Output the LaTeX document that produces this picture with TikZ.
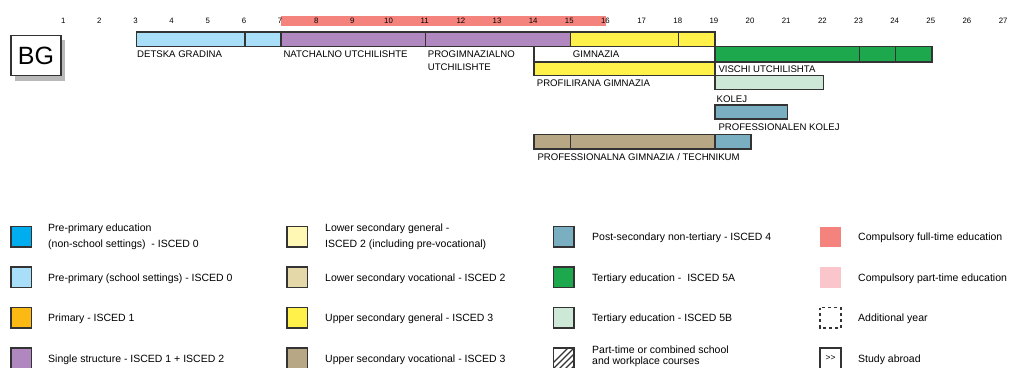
\documentclass[tikz,border=0pt]{standalone}
\usepackage{fontspec}
\setmainfont{Liberation Sans}
\definecolor{bord}{HTML}{333333}
\definecolor{cyanpp}{HTML}{00AEEF}
\definecolor{lblue}{HTML}{A8DEF7}
\definecolor{orangep}{HTML}{FDB913}
\definecolor{purp}{HTML}{B087BE}
\definecolor{lyel}{HTML}{FFF8B5}
\definecolor{ltan}{HTML}{E5D8A8}
\definecolor{yel}{HTML}{FFF04A}
\definecolor{brownv}{HTML}{B8A784}
\definecolor{steel}{HTML}{7AAEC1}
\definecolor{grn}{HTML}{1EA84E}
\definecolor{lgrn}{HTML}{CDE8D6}
\definecolor{redc}{HTML}{F4837D}
\definecolor{pinkc}{HTML}{FAC6CB}
\begin{document}
\begin{tikzpicture}[x=1bp,y=-1bp,
  declare function={yx(\n)=136.5+(\n-3)*36.15;},
  bar/.style={draw=bord,line width=1.4bp},
  num/.style={font=\fontsize{7.8bp}{9bp}\selectfont,inner sep=0pt},
  caplab/.style={font=\fontsize{9.6bp}{11bp}\selectfont,inner sep=0pt,anchor=base west},
  leg/.style={font=\fontsize{10.5bp}{12bp}\selectfont,inner sep=0pt,anchor=base west},
  legbox/.style={draw=bord,line width=1.4bp}]
\useasboundingbox (0,0) rectangle (1011,367);
% country box
\fill[gray!55] (15,40) rectangle (65,80.5);
\node[draw=bord,line width=1.3bp,fill=white,minimum width=50bp,minimum height=40bp,inner sep=0pt,
  font=\fontsize{25bp}{27bp}\selectfont] (bg) at (36,55.7) {BG};
% compulsory strip
\fill[redc] ({yx(7)},16) rectangle ({yx(16)},25.5);
\foreach \n in {1,...,27}
  \node[num] (n\n) at ({yx(\n)-1},21) {\n};
% row 1
\draw[bar,fill=lblue] ({yx(3)},32) rectangle ({yx(6)},46.5);
\draw[bar,fill=lblue] ({yx(6)},32) rectangle ({yx(7)},46.5);
\draw[bar,fill=purp] ({yx(7)},32) rectangle ({yx(11)},46.5);
\draw[bar,fill=purp] ({yx(11)},32) rectangle ({yx(15)},46.5);
\draw[bar,fill=yel] ({yx(15)},32) rectangle ({yx(18)},46.5);
\draw[bar,fill=yel] ({yx(18)},32) rectangle ({yx(19)},46.5);
% row 2
\draw[bar,fill=white] ({yx(14)},46.5) rectangle ({yx(19)},62);
\draw[bar,fill=grn] ({yx(19)},46.5) rectangle ({yx(23)},62);
\draw[bar,fill=grn] ({yx(23)},46.5) rectangle ({yx(24)},62);
\draw[bar,fill=grn] ({yx(24)},46.5) rectangle ({yx(25)},62);
% row 3
\draw[bar,fill=yel] ({yx(14)},62) rectangle ({yx(19)},75.5);
% row 4
\draw[bar,fill=lgrn] ({yx(19)},75.5) rectangle ({yx(22)},89.5);
% row 5
\draw[bar,fill=steel] ({yx(19)},105) rectangle ({yx(21)},119);
% row 6
\draw[bar,fill=brownv] ({yx(14)},134.5) rectangle ({yx(15)},149);
\draw[bar,fill=brownv] ({yx(15)},134.5) rectangle ({yx(19)},149);
\draw[bar,fill=steel] ({yx(19)},134.5) rectangle ({yx(20)},149);
% bar labels
\node[caplab] (l1) at (137,57.3) {DETSKA GRADINA};
\node[caplab] (l2) at (283.3,57.3) {NATCHALNO UTCHILISHTE};
\node[caplab] (l3) at (427.7,57.3) {PROGIMNAZIALNO};
\node[caplab] (l3b) at (427.7,70.7) {UTCHILISHTE};
\node[caplab] (l4) at (572.7,57.3) {GIMNAZIA};
\node[caplab] (l5) at (718.3,72.7) {VISCHI UTCHILISHTA};
\node[caplab] (l6) at (536.7,86.7) {PROFILIRANA GIMNAZIA};
\node[caplab] (l7) at (716.5,102.7) {KOLEJ};
\node[caplab] (l8) at (718.3,130) {PROFESSIONALEN KOLEJ};
\node[caplab] (l9) at (537.3,160) {PROFESSIONALNA GIMNAZIA / TECHNIKUM};
% legend column 1
\draw[legbox,fill=cyanpp] (11,226.5) rectangle ++(20.5,20.5);
\node[leg] (a1) at (48,231) {Pre-primary education};
\node[leg] (a1b) at (48,247) {(non-school settings)\ \ - ISCED 0};
\draw[legbox,fill=lblue] (11,267) rectangle ++(20.5,20.5);
\node[leg] (a2) at (48,281) {Pre-primary (school settings) - ISCED 0};
\draw[legbox,fill=orangep] (11,307.5) rectangle ++(20.5,20.5);
\node[leg] (a3) at (48,321.5) {Primary - ISCED 1};
\draw[legbox,fill=purp] (11,348) rectangle ++(20.5,20.5);
\node[leg] (a4) at (48,362) {Single structure - ISCED 1 + ISCED 2};
% legend column 2
\draw[legbox,fill=lyel] (287,226.5) rectangle ++(20.5,20.5);
\node[leg] (b1) at (325,231) {Lower secondary general -};
\node[leg] (b1b) at (325,247) {ISCED 2 (including pre-vocational)};
\draw[legbox,fill=ltan] (287,267) rectangle ++(20.5,20.5);
\node[leg] (b2) at (325,281) {Lower secondary vocational - ISCED 2};
\draw[legbox,fill=yel] (287,307.5) rectangle ++(20.5,20.5);
\node[leg] (b3) at (325,321.5) {Upper secondary general - ISCED 3};
\draw[legbox,fill=brownv] (287,348) rectangle ++(20.5,20.5);
\node[leg] (b4) at (325,362) {Upper secondary vocational - ISCED 3};
% legend column 3
\draw[legbox,fill=steel] (553.5,226.5) rectangle ++(20.5,20.5);
\node[leg] (c1) at (592,240.5) {Post-secondary non-tertiary - ISCED 4};
\draw[legbox,fill=grn] (553.5,267) rectangle ++(20.5,20.5);
\node[leg] (c2) at (592,281) {Tertiary education -\ \ ISCED 5A};
\draw[legbox,fill=lgrn] (553.5,307.5) rectangle ++(20.5,20.5);
\node[leg] (c3) at (592,321.5) {Tertiary education - ISCED 5B};
\begin{scope}
  \clip (553.5,348) rectangle ++(20.5,20.5);
  \foreach \k in {0,6,...,36}
    \draw[bord,line width=1.1bp] ({553.5+\k-6},{368.5}) -- ({553.5+\k+14.5},{348});
\end{scope}
\draw[legbox] (553.5,348) rectangle ++(20.5,20.5);
\node[leg] (c4) at (592,353.5) {Part-time or combined school};
\node[leg] (c4b) at (592,364.5) {and workplace courses};
% legend column 4
\fill[redc] (820,226.5) rectangle ++(21,20.5);
\node[leg] (d1) at (858,240.5) {Compulsory full-time education};
\fill[pinkc] (820,267) rectangle ++(21,20.5);
\node[leg] (d2) at (858,281) {Compulsory part-time education};
\draw[line width=1.3bp,draw=bord,dashed] (820,307.5) rectangle ++(21,20.5);
\node[leg] (d3) at (858,321.5) {Additional year};
\draw[legbox] (820,348) rectangle ++(21,20.5);
\node[font=\fontsize{8.5bp}{9bp}\selectfont,inner sep=0pt] (d4s) at (830.5,358) {{>}{>}};
\node[leg] (d4) at (858,362) {Study abroad};
\end{tikzpicture}
\end{document}
